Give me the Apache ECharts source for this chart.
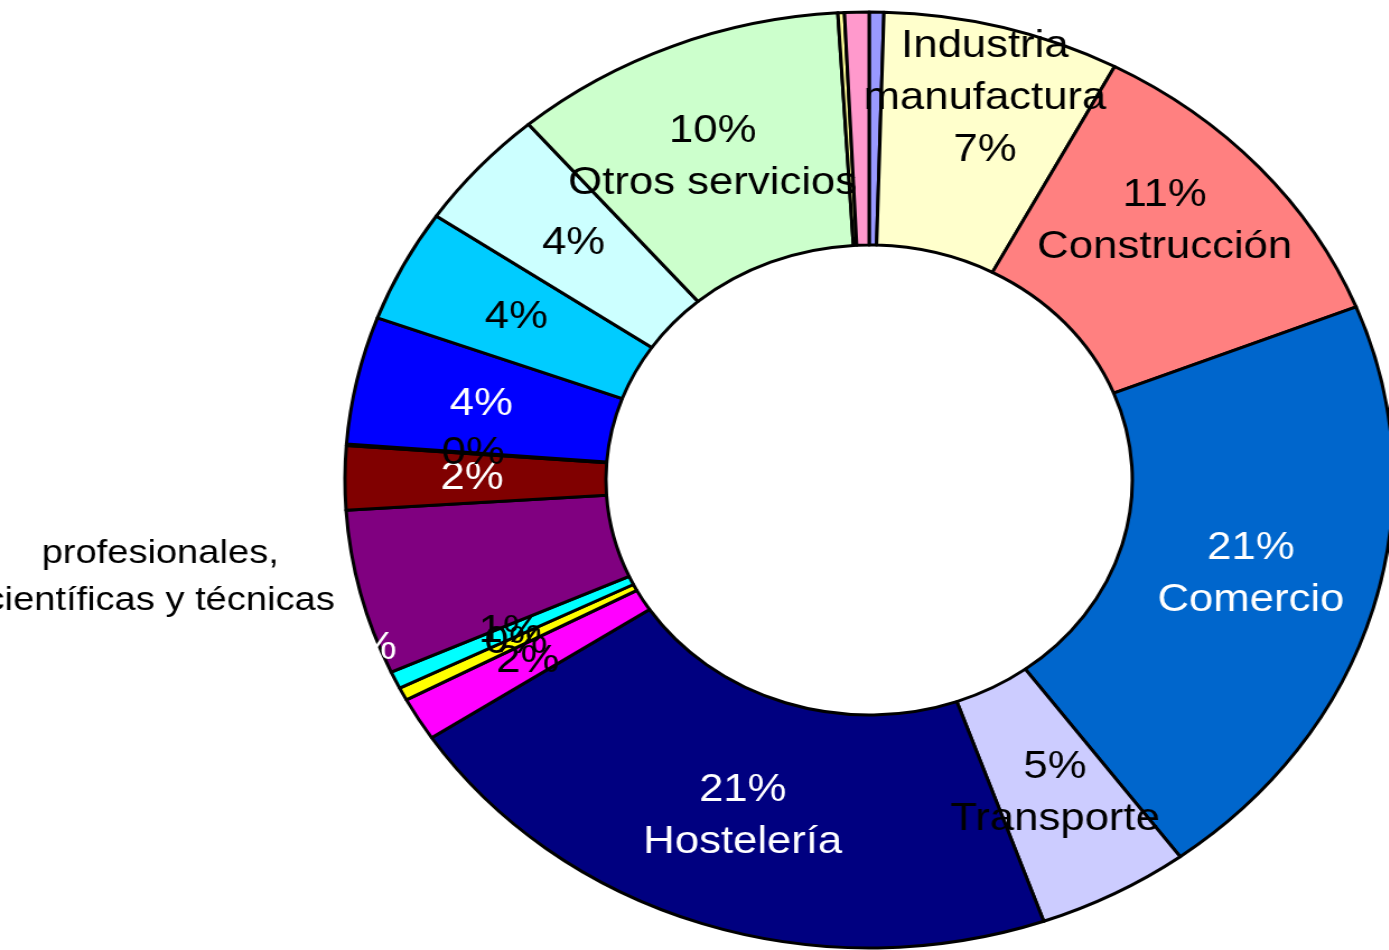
<!DOCTYPE html>
<html>
<head>
<meta charset="utf-8">
<script src="https://cdn.jsdelivr.net/npm/echarts@6/dist/echarts.min.js"></script>
<style>
  html, body { margin: 0; padding: 0; background: #fff; overflow: hidden; width: 1389px; height: 950px; }
  /* the original donut is stretched horizontally, so the chart is drawn narrower and scaled */
  #main { width: 1240px; height: 950px; transform: scaleX(1.12); transform-origin: 0 0; }
</style>
</head>
<body>
<div id="main"></div>
<script>
// slices in drawing order, clockwise from 12 o'clock
var sectors = ['Agricultura', 'Industria manufactura', 'Construcción', 'Comercio', 'Transporte',
  'Hostelería', 'Información y comunicaciones', 'Actividades financieras', 'Actividades inmobiliarias',
  'Actividades profesionales, científicas y técnicas', 'Actividades administrativas',
  'Administración pública', 'Educación', 'Actividades sanitarias', 'Actividades artísticas',
  'Otros servicios', 'Hogares', 'Organismos extraterritoriales'];
var shares = [0.45, 7.3, 11.2, 20.9, 4.7, 21.1, 1.5, 0.45, 0.6, 5.7, 2.2, 0.05, 4.4, 3.9, 4.2, 10.3, 0.2, 0.75];
// label text, '#' is replaced by the rounded percentage ('' = no label)
var labelTexts = ['', 'Industria\nmanufactura\n#%', '#%\nConstrucción', '#%\nComercio', '#%\nTransporte',
  '#%\nHostelería', '#%', '#%', '#%', '#%', '#%', '#%', '#%', '#%', '#%', '#%\nOtros servicios', '', ''];

var colors = ['#9999FF', '#FFFFCC', '#FF8080', '#0066CC', '#CCCCFF', '#000080', '#FF00FF', '#FFFF00',
  '#00FFFF', '#800080', '#800000', '#008080', '#0000FF', '#00CCFF', '#CCFFFF', '#CCFFCC', '#FFFF99', '#FF99CC'];
var labelColors = ['#000', '#000', '#000', '#fff', '#000', '#fff', '#000', '#000',
  '#000', '#fff', '#fff', '#000', '#fff', '#000', '#000', '#000', '#000', '#000'];

// small nudges of a few labels, to sit where the original has them
var labelMoves = {
  1: { dx: 13, dy: -39 },
  2: { dy: -22 },
  3: { dy: -3 },
  9: { x: 326, y: 648 },
  15: { dx: -7, dy: 6 }
};

var chartDom = document.getElementById('main');
var myChart = echarts.init(chartDom);

var data = sectors.map(function (name, i) {
  return {
    name: name,
    value: shares[i],
    itemStyle: { color: colors[i] },
    label: { color: labelColors[i] }
  };
});

var option = {
  animation: false,
  graphic: [
    {
      type: 'text',
      x: 143,
      y: 577,
      style: {
        text: 'profesionales,\ncientíficas y técnicas',
        fontFamily: 'Liberation Sans, Arial',
        fontSize: 34,
        lineHeight: 47,
        fill: '#000',
        align: 'center',
        verticalAlign: 'middle'
      }
    }
  ],
  series: [
    {
      type: 'pie',
      center: [776, 480],
      radius: [235, 468],
      startAngle: 90,
      clockwise: true,
      avoidLabelOverlap: false,
      itemStyle: { borderColor: '#000', borderWidth: 3 },
      emphasis: { disabled: true },
      labelLine: { show: false },
      label: {
        show: true,
        position: 'inside',
        fontFamily: 'Liberation Sans, Arial',
        fontSize: 39,
        lineHeight: 52,
        align: 'center',
        formatter: function (p) {
          return labelTexts[p.dataIndex].replace('#', Math.round(p.percent));
        }
      },
      labelLayout: function (p) {
        return labelMoves[p.dataIndex] || {};
      },
      data: data
    }
  ]
};

myChart.setOption(option);

window.addEventListener('resize', function () {
  myChart.resize();
});
</script>
</body>
</html>
